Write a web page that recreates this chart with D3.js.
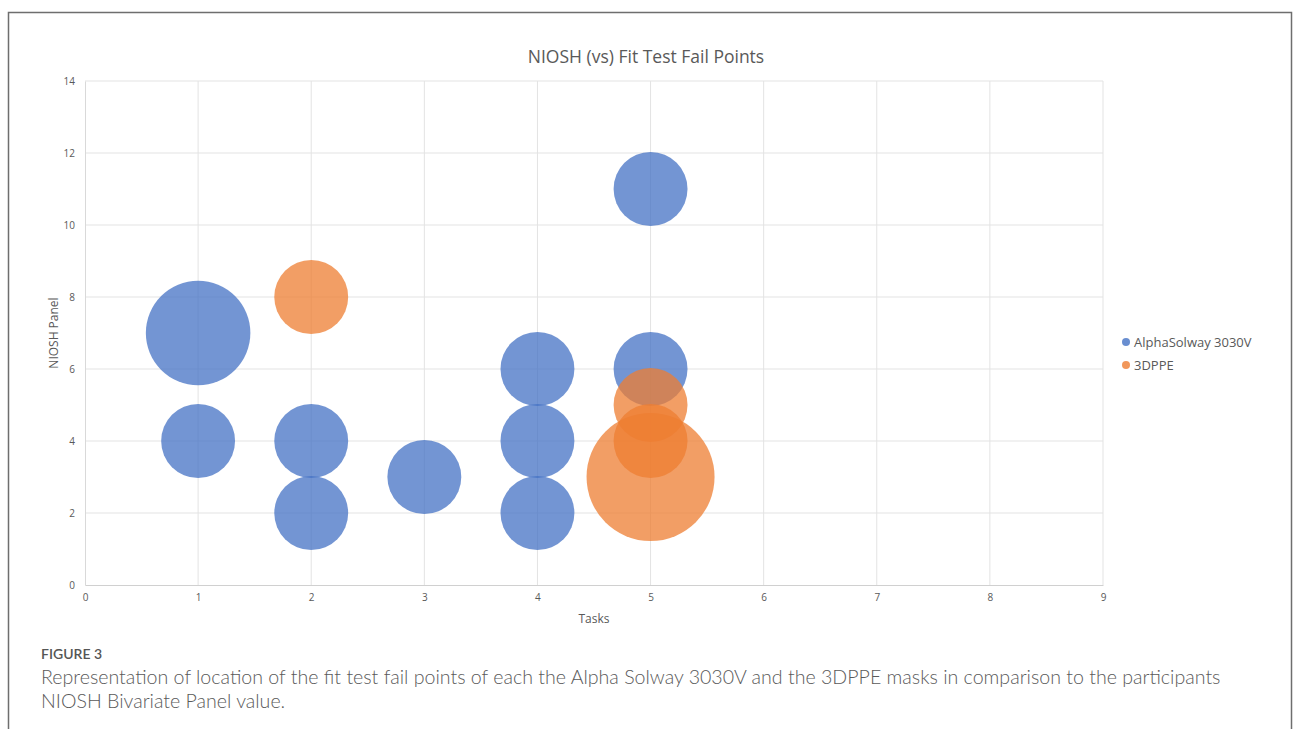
<!DOCTYPE html>
<html>
<head>
<meta charset="utf-8">
<script src="https://cdn.jsdelivr.net/npm/d3@7"></script>
<style>
  body { margin: 0; background: #fff; }
  text { font-family: "Open Sans", "Liberation Sans", sans-serif; }
</style>
</head>
<body>
<script>
// series data: tasks (x), NIOSH panel (y), bubble size
var alphaTasks = [1, 1, 2, 2, 3, 4, 4, 4, 5, 5];
var alphaPanel = [7, 4, 4, 2, 3, 6, 4, 2, 11, 6];
var alphaSize  = [2, 1, 1, 1, 1, 1, 1, 1, 1, 1];

var ppeTasks = [2, 5, 5, 5];
var ppePanel = [8, 3, 5, 4];
var ppeSize  = [1, 3, 1, 1];

var seriesNames = ["AlphaSolway 3030V", "3DPPE"];
var seriesColors = ["#4472C4", "#ED7D31"];
var xTicks = [0, 1, 2, 3, 4, 5, 6, 7, 8, 9];
var yTicks = [0, 2, 4, 6, 8, 10, 12, 14];

var width = 1293;
var height = 729;
var plotLeft = 85, plotRight = 1103, plotTop = 81, plotBottom = 585;

var svg = d3.select("body").append("svg")
            .attr("width", width)
            .attr("height", height);

// outer frame
svg.append("rect")
   .attr("x", 8.5).attr("y", 12.5)
   .attr("width", 1283).attr("height", 740)
   .attr("fill", "none")
   .attr("stroke", "#6e6e6e")
   .attr("stroke-width", 1.5);

var xScale = d3.scaleLinear().domain([0, 9]).range([plotLeft, plotRight]);
var yScale = d3.scaleLinear().domain([0, 14]).range([plotBottom, plotTop]);
var rScale = d3.scaleSqrt().domain([0, 3]).range([0, 64]);

// gridlines
svg.append("g").selectAll("line")
   .data(xTicks.slice(1))
   .enter().append("line")
   .attr("x1", function(d) { return xScale(d); })
   .attr("x2", function(d) { return xScale(d); })
   .attr("y1", plotTop).attr("y2", plotBottom)
   .attr("stroke", "#e3e3e3");
svg.append("g").selectAll("line")
   .data(yTicks.slice(1))
   .enter().append("line")
   .attr("y1", function(d) { return yScale(d); })
   .attr("y2", function(d) { return yScale(d); })
   .attr("x1", plotLeft).attr("x2", plotRight)
   .attr("stroke", "#e3e3e3");

// axes
var xAxis = d3.axisBottom(xScale).tickValues(xTicks).tickSize(0).tickPadding(9);
svg.append("g")
   .attr("transform", "translate(0," + plotBottom + ")")
   .call(xAxis)
   .call(function(g) {
       g.select(".domain").attr("stroke", "#d0d0d0");
       g.selectAll("text").attr("fill", "#595959").style("font-size", "10px");
   });
var yAxis = d3.axisLeft(yScale).tickValues(yTicks).tickSize(0).tickPadding(10);
svg.append("g")
   .attr("transform", "translate(" + plotLeft + ",0)")
   .call(yAxis)
   .call(function(g) {
       g.select(".domain").attr("stroke", "#d9d9d9");
       g.selectAll("text").attr("fill", "#595959").style("font-size", "10px");
   });

// bubbles
var points = [];
alphaTasks.forEach(function(t, i) {
    points.push({s: 0, x: t, y: alphaPanel[i], size: alphaSize[i]});
});
ppeTasks.forEach(function(t, i) {
    points.push({s: 1, x: t, y: ppePanel[i], size: ppeSize[i]});
});

svg.append("g").selectAll("circle")
   .data(points)
   .enter().append("circle")
   .attr("cx", function(d) { return xScale(d.x); })
   .attr("cy", function(d) { return yScale(d.y); })
   .attr("r", function(d) { return rScale(d.size); })
   .attr("fill", function(d) { return seriesColors[d.s]; })
   .attr("fill-opacity", 0.75);

// title
svg.append("text")
   .attr("x", 646).attr("y", 63)
   .attr("text-anchor", "middle")
   .attr("fill", "#595959")
   .style("font-size", "17.5px")
   .text("NIOSH (vs) Fit Test Fail Points");

// axis titles
svg.append("text")
   .attr("x", (plotLeft + plotRight) / 2).attr("y", 623)
   .attr("text-anchor", "middle")
   .attr("fill", "#595959")
   .style("font-size", "12px")
   .text("Tasks");
svg.append("text")
   .attr("transform", "translate(58," + ((plotTop + plotBottom) / 2) + ") rotate(-90)")
   .attr("text-anchor", "middle")
   .attr("fill", "#595959")
   .style("font-size", "12px")
   .text("NIOSH Panel");

// legend
var legend = svg.append("g").selectAll("g")
   .data(seriesNames)
   .enter().append("g")
   .attr("transform", function(d, i) { return "translate(1126," + (342 + i * 23) + ")"; });
legend.append("circle")
   .attr("r", 4)
   .attr("fill", function(d, i) { return seriesColors[i]; })
   .attr("fill-opacity", 0.8);
legend.append("text")
   .attr("x", 8).attr("y", 4.5)
   .attr("fill", "#595959")
   .style("font-size", "13px")
   .text(function(d) { return d; });

// caption
svg.append("text")
   .attr("x", 41).attr("y", 659)
   .attr("fill", "#555")
   .style("font-size", "14px")
   .style("font-family", "Lato, sans-serif")
   .style("font-weight", "600")
   .text("FIGURE 3");
var caption = [
    "Representation of location of the fit test fail points of each the Alpha Solway 3030V and the 3DPPE masks in comparison to the participants",
    "NIOSH Bivariate Panel value."
];
svg.append("g").selectAll("text")
   .data(caption)
   .enter().append("text")
   .attr("x", 41)
   .attr("y", function(d, i) { return 684 + i * 24; })
   .attr("fill", "#5a5a5a")
   .style("font-size", "19.6px")
   .style("font-family", "Lato, sans-serif")
   .style("font-weight", "300")
   .text(function(d) { return d; });
</script>
</body>
</html>
